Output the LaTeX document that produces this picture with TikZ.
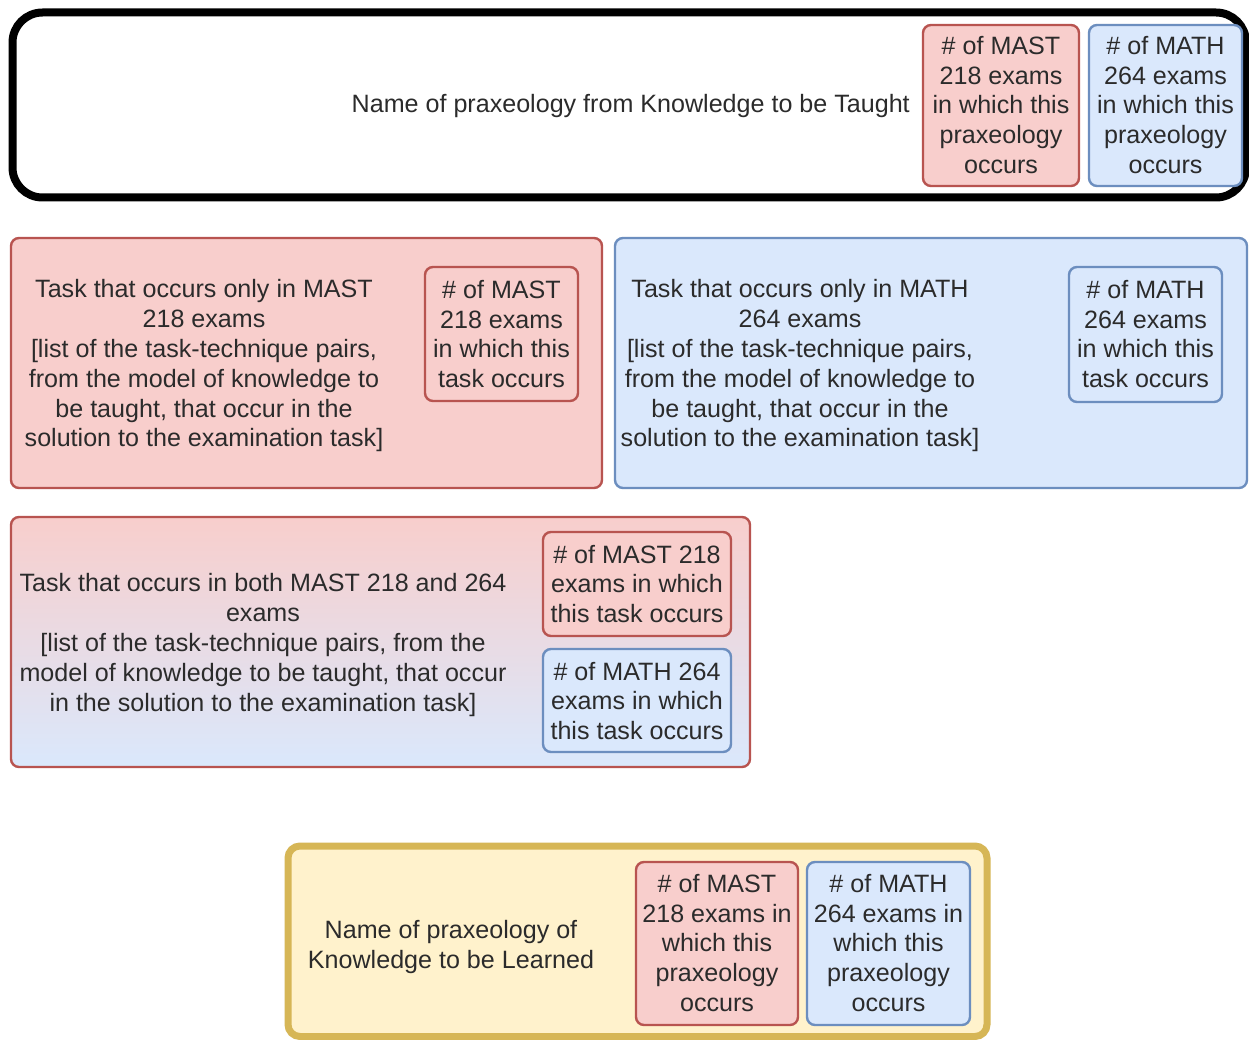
\documentclass[tikz,border=0pt]{standalone}
\usepackage{fontspec}
\setmainfont{Liberation Sans}
\begin{document}
\definecolor{redfill}{HTML}{F8CECC}
\definecolor{redline}{HTML}{B85450}
\definecolor{bluefill}{HTML}{DAE8FC}
\definecolor{blueline}{HTML}{6C8EBF}
\definecolor{yelfill}{HTML}{FFF2CC}
\definecolor{yelline}{HTML}{D6B656}
\definecolor{txt}{HTML}{2B2B2B}
\begin{tikzpicture}[x=1pt,y=-1pt,
  every node/.style={font=\fontsize{25.1}{29.8}\selectfont, text=txt, align=center, inner sep=0pt},
  redbox/.style={fill=redfill, draw=redline},
  bluebox/.style={fill=bluefill, draw=blueline}]
\useasboundingbox (0,0) rectangle (1249,1040);
\clip (0,0) rectangle (1249,1040);
\fill[white] (0,0) rectangle (1249,1040);

% --- Knowledge to be Taught header ---
\draw[line width=8pt, rounded corners=30pt] (12.5,12.5) rectangle (1246,197.5);
\node[anchor=east] (kname) at (910,106) {Name of praxeology from Knowledge to be Taught};
\draw[redbox, line width=2.4pt, rounded corners=8pt] (923,25) rectangle (1079,186);
\node (kmast) at (1001,105) {\# of MAST\\218 exams\\in which this\\praxeology\\occurs};
\draw[bluebox, line width=2.4pt, rounded corners=8pt] (1089,25) rectangle (1242,186);
\node (kmath) at (1165.5,105) {\# of MATH\\264 exams\\in which this\\praxeology\\occurs};

% --- Task only in MAST 218 ---
\draw[redbox, line width=2.4pt, rounded corners=8pt] (11,238) rectangle (602,488);
\node (tmast) at (204,366) {Task that occurs only in MAST\\218 exams\\{}[list of the task-technique pairs,\\from the model of knowledge to\\be taught, that occur in the\\solution to the examination task]};
\draw[redbox, line width=2.4pt, rounded corners=8pt] (425,267) rectangle (578,401);
\node (tmastn) at (501.5,334) {\# of MAST\\218 exams\\in which this\\task occurs};

% --- Task only in MATH 264 ---
\draw[bluebox, line width=2.4pt, rounded corners=8pt] (615,238) rectangle (1247,488);
\node (tmath) at (800,366) {Task that occurs only in MATH\\264 exams\\{}[list of the task-technique pairs,\\from the model of knowledge to\\be taught, that occur in the\\solution to the examination task]};
\draw[bluebox, line width=2.4pt, rounded corners=8pt] (1069,267) rectangle (1222,402);
\node (tmathn) at (1145.5,334) {\# of MATH\\264 exams\\in which this\\task occurs};

% --- Task in both courses ---
\draw[draw=redline, line width=2.4pt, rounded corners=8pt, top color=redfill, bottom color=bluefill] (11,517) rectangle (750,767);
\node (tboth) at (263,645) {Task that occurs in both MAST 218 and 264\\exams\\{}[list of the task-technique pairs, from the\\model of knowledge to be taught, that occur\\in the solution to the examination task]};
\draw[redbox, line width=2.4pt, rounded corners=8pt] (543,532) rectangle (731,636);
\node (tbothr) at (637,584) {\# of MAST 218\\exams in which\\this task occurs};
\draw[bluebox, line width=2.4pt, rounded corners=8pt] (543,649) rectangle (731,752);
\node (tbothb) at (637,701) {\# of MATH 264\\exams in which\\this task occurs};

% --- Knowledge to be Learned ---
\draw[fill=yelfill, draw=yelline, line width=7pt, rounded corners=12pt] (288,846) rectangle (987,1036.5);
\node (lname) at (451,947) {Name of praxeology of\\Knowledge to be Learned};
\draw[redbox, line width=2.4pt, rounded corners=8pt] (636,862) rectangle (798,1025);
\node (lmast) at (717,943) {\# of MAST\\218 exams in\\which this\\praxeology\\occurs};
\draw[bluebox, line width=2.4pt, rounded corners=8pt] (807,862) rectangle (970,1025);
\node (lmath) at (888.5,943) {\# of MATH\\264 exams in\\which this\\praxeology\\occurs};
\end{tikzpicture}
\end{document}
